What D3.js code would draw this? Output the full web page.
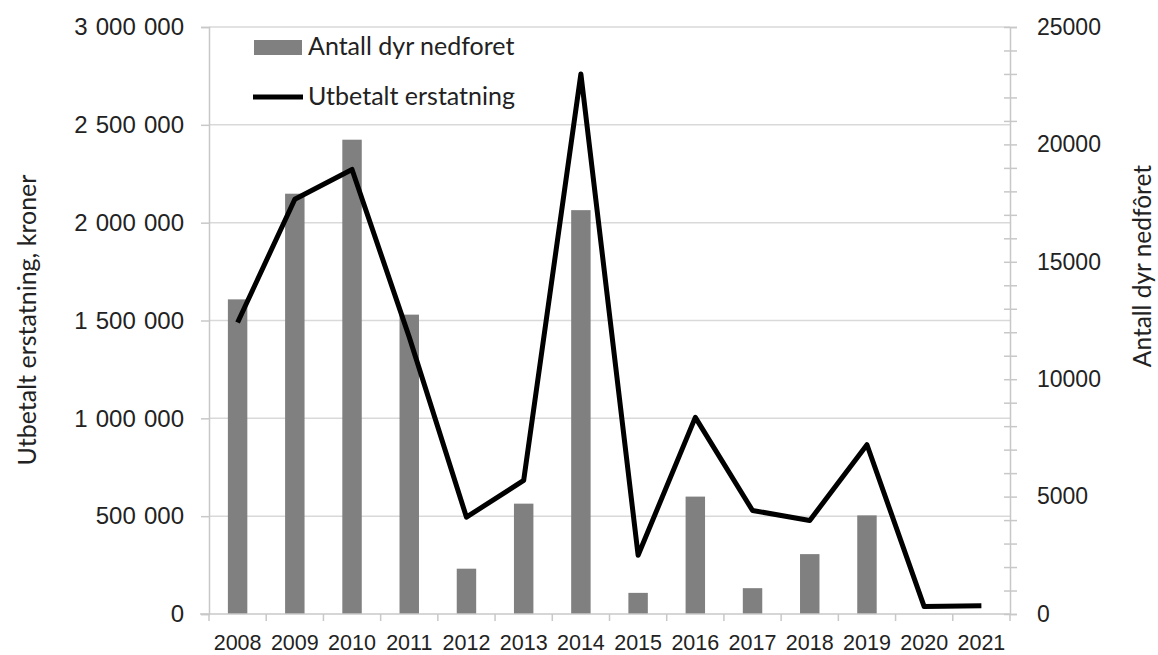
<!DOCTYPE html>
<html>
<head>
<meta charset="utf-8">
<script src="https://cdn.jsdelivr.net/npm/d3@7"></script>
<style>
  body { margin: 0; background: #fff; }
  svg { display: block; font-family: Lato, "Open Sans", sans-serif; }
  .tick text { fill: #222; }
</style>
</head>
<body>
<script>
// data
var years = ["2008", "2009", "2010", "2011", "2012", "2013", "2014", "2015", "2016", "2017", "2018", "2019", "2020", "2021"];
var animals = [13400, 17900, 20200, 12750, 1930, 4700, 17200, 900, 5000, 1100, 2550, 4200, 0, 0];
var payout = [1490000, 2120000, 2272000, 1415000, 495000, 683000, 2760000, 300000, 1005000, 529000, 478000, 865000, 38000, 42000];
var leftTicks = [0, 500000, 1000000, 1500000, 2000000, 2500000, 3000000];
var rightTicks = [0, 5000, 10000, 15000, 20000, 25000];

var w = 1158, h = 655;
var svg = d3.select("body").append("svg")
  .attr("width", w)
  .attr("height", h);

var x = d3.scaleBand().domain(years).range([209, 1010]).paddingInner(0.66).paddingOuter(0.33);
var yL = d3.scaleLinear().domain([0, 3000000]).range([614, 27]);
var yR = d3.scaleLinear().domain([0, 25000]).range([614, 27]);

var fmt = function(d) { return d3.format(",")(d).replace(/,/g, " "); };

// gridlines
svg.append("g").selectAll("line").data(leftTicks.slice(1)).enter().append("line")
  .attr("x1", 209).attr("x2", 1010)
  .attr("y1", function(d) { return yL(d); })
  .attr("y2", function(d) { return yL(d); })
  .attr("stroke", "#d9d9d9").attr("stroke-width", 1.5);

// bars
svg.append("g").selectAll("rect").data(years).enter().append("rect")
  .attr("x", function(d) { return x(d); })
  .attr("width", x.bandwidth())
  .attr("y", function(d, i) { return yR(animals[i]); })
  .attr("height", function(d, i) { return yR(0) - yR(animals[i]); })
  .attr("fill", "#808080");

// left axis
var axL = svg.append("g").attr("transform", "translate(209,0)")
  .call(d3.axisLeft(yL).tickValues(leftTicks).tickFormat(fmt).tickSize(8).tickPadding(17));
axL.selectAll("text").style("font-size", "24px").style("word-spacing", "1.5px");

// right axis, minor ticks every 1000
var axR = svg.append("g").attr("transform", "translate(1010,0)")
  .call(d3.axisRight(yR).tickValues(d3.range(0, 25001, 1000)).tickSize(7).tickPadding(20)
    .tickFormat(function(d) { return rightTicks.indexOf(d) >= 0 ? d : ""; }));
axR.selectAll(".tick line").attr("x1", -6);
axR.selectAll("text").style("font-size", "23px");

// bottom axis, ticks between categories
var axB = svg.append("g").attr("transform", "translate(0,614)")
  .call(d3.axisBottom(x).tickSize(0).tickPadding(21));
axB.selectAll("text").style("font-size", "21.5px");
axB.selectAll(".tick line").remove();
axB.selectAll("line.sep").data(d3.range(years.length + 1)).enter().append("line")
  .attr("class", "sep")
  .attr("x1", function(i) { return 209 + i * x.step(); })
  .attr("x2", function(i) { return 209 + i * x.step(); })
  .attr("y1", 0).attr("y2", 7);

svg.selectAll(".domain, .tick line, line.sep").attr("stroke", "#c8c8c8").attr("stroke-width", 1.5);
axB.select(".domain").attr("d", "M200,0H1010");

// line
var line = d3.line()
  .x(function(d, i) { return x(years[i]) + x.bandwidth() / 2; })
  .y(function(d) { return yL(d); });
svg.append("path").datum(payout)
  .attr("d", line)
  .attr("fill", "none")
  .attr("stroke", "#000")
  .attr("stroke-width", 5)
  .attr("stroke-linejoin", "round");

// axis titles
svg.append("text")
  .attr("transform", "translate(36,320) rotate(-90)")
  .attr("text-anchor", "middle")
  .style("font-size", "25px").attr("fill", "#222")
  .text("Utbetalt erstatning, kroner");
svg.append("text")
  .attr("transform", "translate(1151,266) rotate(-90)")
  .attr("text-anchor", "middle")
  .style("font-size", "24.5px").attr("fill", "#222")
  .text("Antall dyr nedfôret");

// legend
var lg = svg.append("g");
lg.append("rect").attr("x", 254).attr("y", 40).attr("width", 48).attr("height", 15).attr("fill", "#808080");
lg.append("text").attr("x", 308).attr("y", 55).style("font-size", "25px").attr("fill", "#222").text("Antall dyr nedforet");
lg.append("line").attr("x1", 253).attr("x2", 303).attr("y1", 97).attr("y2", 97)
  .attr("stroke", "#000").attr("stroke-width", 5);
lg.append("text").attr("x", 308).attr("y", 105).style("font-size", "25px").attr("fill", "#222").text("Utbetalt erstatning");
</script>
</body>
</html>
